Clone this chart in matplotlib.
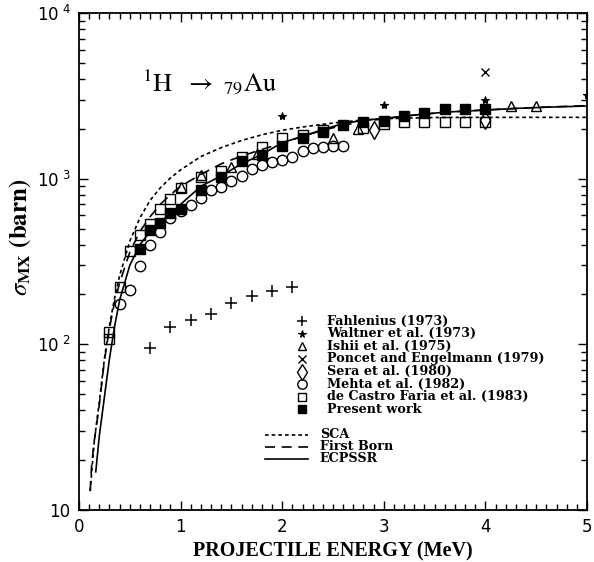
import matplotlib
matplotlib.use("Agg")
import matplotlib.pyplot as plt
from matplotlib.ticker import FixedLocator, NullFormatter

# ---------------- data ----------------
fah_x = [0.7, 0.9, 1.1, 1.3, 1.5, 1.7, 1.9, 2.1]
fah_y = [95, 128, 140, 152, 178, 196, 209, 221]

wal_x = [2.0, 3.0, 4.0, 5.0]
wal_y = [2400, 2780, 2980, 3190]

ish_x = [1.0, 1.2, 1.5, 1.75, 2.5, 2.75, 4.25, 4.5]
ish_y = [885, 1052, 1180, 1400, 1750, 2000, 2730, 2740]

pon_x = [4.0]
pon_y = [4420]

ser_x = [2.9, 4.0]
ser_y = [1975, 2250]

meh_x = [0.4, 0.5, 0.6, 0.7, 0.8, 0.9, 1.0, 1.1, 1.2, 1.3, 1.4, 1.5, 1.6, 1.7,
         1.8, 1.9, 2.0, 2.1, 2.2, 2.3, 2.4, 2.5, 2.6]
meh_y = [175, 213, 297, 397, 478, 576, 635, 693, 760, 853, 893, 971, 1037, 1137,
         1215, 1255, 1300, 1360, 1460, 1523, 1560, 1575, 1580]

cas_x = [0.3, 0.3, 0.4, 0.5, 0.6, 0.7, 0.8, 0.9, 1.0, 1.2, 1.4, 1.6, 1.8, 2.0,
         2.2, 2.4, 2.8, 3.0, 3.2, 3.4, 3.6, 3.8, 4.0]
cas_y = [108, 118, 223, 365, 455, 535, 654, 759, 874, 1027, 1117, 1360, 1560, 1750,
         1830, 1965, 2010, 2150, 2200, 2200, 2200, 2200, 2200]

pre_x = [0.6, 0.7, 0.8, 0.9, 1.0, 1.2, 1.4, 1.6, 1.8, 2.0, 2.2, 2.4, 2.6, 2.8,
         3.0, 3.2, 3.4, 3.6, 3.8, 4.0]
pre_y = [375, 487, 537, 617, 653, 856, 1020, 1270, 1387, 1585, 1750, 1900, 2100, 2200,
         2237, 2398, 2495, 2620, 2620, 2620]

sca_x = [0.11, 0.15, 0.2, 0.25, 0.3, 0.35, 0.4, 0.5, 0.6, 0.7, 0.8, 0.9, 1.0, 1.2,
         1.4, 1.6, 1.8, 2.0, 2.2, 2.4, 2.6, 2.8, 3.0, 3.5, 4.0, 5.0]
sca_y = [13, 26, 45, 82, 130, 190, 260, 420, 580, 740, 880, 1010, 1130, 1360,
         1540, 1700, 1840, 1960, 2050, 2130, 2200, 2260, 2300, 2340, 2345, 2345]

born_x = [0.11, 0.125, 0.15, 0.2, 0.25, 0.3, 0.35, 0.4, 0.5, 0.6, 0.7, 0.8, 0.9, 1.0,
          1.2, 1.4, 1.6, 1.8, 2.0, 2.2, 2.4, 2.6, 2.8, 3.0, 3.3, 3.6, 4.0, 4.5, 5.0]
born_y = [13, 19, 26, 43, 80, 125, 180, 235, 360, 480, 590, 700, 800, 900,
          1060, 1230, 1370, 1500, 1640, 1800, 1960, 2100, 2210, 2300, 2420, 2520, 2600, 2690, 2760]

ecp_x = [0.165, 0.2, 0.25, 0.3, 0.35, 0.4, 0.5, 0.6, 0.7, 0.8, 0.9, 1.0, 1.2, 1.4,
         1.6, 1.8, 2.0, 2.2, 2.4, 2.6, 2.8, 3.0, 3.3, 3.6, 4.0, 4.3, 4.6, 5.0]
ecp_y = [17, 28, 48, 82, 128, 185, 300, 400, 480, 545, 610, 700, 900, 1040,
         1230, 1400, 1650, 1800, 1980, 2150, 2250, 2310, 2420, 2520, 2594, 2655, 2700, 2745]

xticks = [0, 1, 2, 3, 4, 5]
yticks = [10, 100, 1000, 10000]
ytick_labels = ['10', r'$10^{\ 2}$', r'$10^{\ 3}$', r'$10^{\ 4}$']

exp_labels = ['Fahlenius (1973)', 'Waltner et al. (1973)', 'Ishii et al. (1975)',
              'Poncet and Engelmann (1979)', 'Sera et al. (1980)', 'Mehta et al. (1982)',
              'de Castro Faria et al. (1983)', 'Present work']
theory_labels = ['SCA', 'First Born', 'ECPSSR']

# ---------------- figure ----------------
W, H = 594, 562
fig = plt.figure(figsize=(W / 100, H / 100), dpi=100)
L, R, T, B = 79, 587, 13, 510
ax = fig.add_axes([L / W, (H - B) / H, (R - L) / W, (B - T) / H])
ax.set_yscale('log')
ax.set_xlim(0, 5)
ax.set_ylim(10, 10000)

k = 'black'
lw_th = 1.2
sca_style = dict(color=k, lw=lw_th, linestyle=(0, (2.2, 1.8)))
born_style = dict(color=k, lw=lw_th, linestyle=(0, (6.0, 4.0)))
ecp_style = dict(color=k, lw=lw_th, linestyle='-')
ax.plot(sca_x, sca_y, **sca_style)
ax.plot(born_x, born_y, **born_style)
ax.plot(ecp_x, ecp_y, **ecp_style)

styles = [
    dict(marker='+', ms=8, mew=1.1, mfc='none', mec=k),
    dict(marker='*', ms=6, mew=0.8, mfc=k, mec=k),
    dict(marker='^', ms=7, mew=1.0, mfc='none', mec=k),
    dict(marker='x', ms=6, mew=1.0, mfc='none', mec=k),
    dict(marker='d', ms=9, mew=1.0, mfc='none', mec=k),
    dict(marker='o', ms=7.5, mew=1.0, mfc='none', mec=k),
    dict(marker='s', ms=6.5, mew=1.0, mfc='none', mec=k),
    dict(marker='s', ms=6.5, mew=1.0, mfc=k, mec=k),
]
series = [(fah_x, fah_y), (wal_x, wal_y), (ish_x, ish_y), (pon_x, pon_y),
          (ser_x, ser_y), (meh_x, meh_y), (cas_x, cas_y), (pre_x, pre_y)]
for (sx, sy), st in zip(series, styles):
    ax.plot(sx, sy, linestyle='none', clip_on=True, **st)

# ticks
ax.set_xticks(xticks)
ax.xaxis.set_minor_locator(FixedLocator([i / 10 for i in range(0, 51) if i % 10]))
ax.set_yticks(yticks)
ax.set_yticklabels(ytick_labels)
ax.yaxis.set_minor_locator(FixedLocator([m * 10 ** e for e in (1, 2, 3) for m in range(2, 10)]))
ax.yaxis.set_minor_formatter(NullFormatter())
ax.tick_params(which='both', direction='in', top=True, right=True, width=1.0, color=k)
ax.tick_params(which='major', length=6.5, labelsize=12, pad=6)
ax.tick_params(which='minor', length=4)
for lab in ax.get_xticklabels() + ax.get_yticklabels():
    lab.set_fontfamily('DejaVu Sans')
for s in ax.spines.values():
    s.set_linewidth(1.3)

# axis labels
ax.set_xlabel('PROJECTILE ENERGY (MeV)', fontfamily='Liberation Serif', fontweight='bold',
              fontsize=14.5, labelpad=4)
fig.text(20 / W, 1 - 237 / H, r'$\sigma_{\mathbf{MX}}\ \mathbf{(barn)}$', rotation=90,
         ha='center', va='center', fontsize=18, math_fontfamily='stix')

# reaction label
ax.text(0.125, 0.86, r'$^{1}\mathrm{H}\ \ {\rightarrow}\ _{79}\mathrm{Au}$', transform=ax.transAxes,
        fontsize=19, math_fontfamily='stix', ha='left', va='center')

# legend (manual)
lx_m, lx_t = 0.439, 0.488
y0, dy = 0.380, 0.02535
for i, (lab, st) in enumerate(zip(exp_labels, styles)):
    yy = y0 - i * dy
    st2 = dict(st)
    st2['ms'] = st['ms'] * 0.9
    ax.plot([lx_m], [yy], transform=ax.transAxes, linestyle='none', **st2)
    ax.text(lx_t, yy, lab, transform=ax.transAxes, fontfamily='DejaVu Serif',
            fontweight='bold', fontsize=9.2, va='center', ha='left')

ly = [0.151, 0.127, 0.103]
for yy, lab, st in zip(ly, theory_labels, [sca_style, born_style, ecp_style]):
    ax.plot([0.366, 0.451], [yy, yy], transform=ax.transAxes, **st)
    ax.text(0.474, yy, lab, transform=ax.transAxes, fontfamily='DejaVu Serif',
            fontweight='bold', fontsize=9.2, va='center', ha='left')

fig.savefig('out.png', dpi=100)
